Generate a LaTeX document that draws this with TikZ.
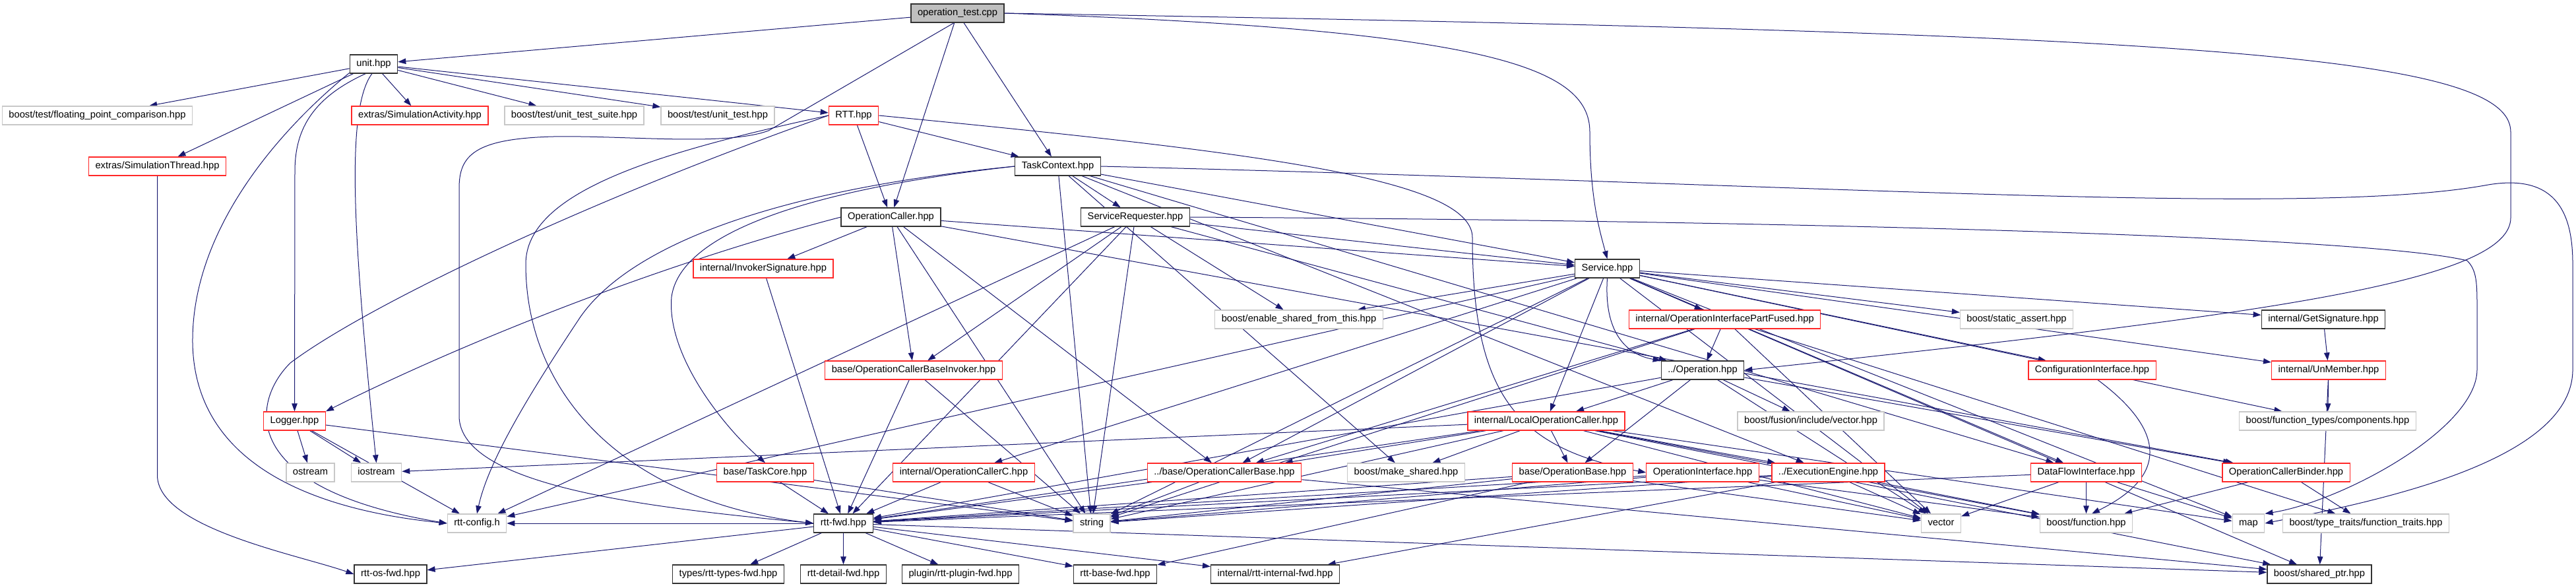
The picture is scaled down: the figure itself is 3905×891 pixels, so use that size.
\documentclass[tikz,border=0pt]{standalone}
\usepackage{fontspec}
\setmainfont{Liberation Sans}
\usetikzlibrary{arrows.meta,backgrounds}
\definecolor{edgeblue}{RGB}{25,25,112}
\definecolor{hdrgray}{RGB}{191,191,191}
\definecolor{boxred}{RGB}{255,40,40}
\definecolor{boxgray}{RGB}{200,200,200}
\newcommand{\graphfont}{\fontsize{14.7}{17}\selectfont}

\begin{document}
\begin{tikzpicture}[x=1pt,y=-1pt,
   file/.style={draw=black!80, line width=1.3pt, fill=white, font=\graphfont,
                minimum height=28pt, inner xsep=10pt, inner ysep=0pt,
                text height=10.5pt, text depth=3pt},
   trunc/.style={file, draw=boxred},
   sys/.style={file, draw=boxgray},
   dep/.style={draw=edgeblue, line width=1pt, -{Triangle[length=12pt,width=8.5pt]}}]
  \useasboundingbox (0,0) rectangle (3905,891);

  \node[file, fill=hdrgray] (root) at (1451.5,20) {operation\_test.cpp};
  \node[file] (unit) at (566.5,97) {unit.hpp};
  \node[sys] (fpc) at (147.5,175) {boost/test/floating\_point\_comparison.hpp};
  \node[trunc] (simact) at (636.5,175) {extras/SimulationActivity.hpp};
  \node[sys] (uts) at (870.5,175) {boost/test/unit\_test\_suite.hpp};
  \node[sys] (ut) at (1088,175) {boost/test/unit\_test.hpp};
  \node[trunc] (rtt) at (1294,175) {RTT.hpp};
  \node[trunc] (simthr) at (238.5,252) {extras/SimulationThread.hpp};
  \node[file] (tc) at (1603.5,252) {TaskContext.hpp};
  \node[file] (oc) at (1350.5,329) {OperationCaller.hpp};
  \node[file] (sr) at (1721,329) {ServiceRequester.hpp};
  \node[trunc] (inv) at (1157,407) {internal/InvokerSignature.hpp};
  \node[file] (svc) at (2436.5,407) {Service.hpp};
  \node[sys] (esft) at (1969,484) {boost/enable\_shared\_from\_this.hpp};
  \node[trunc] (oipf) at (2614.5,484) {internal/OperationInterfacePartFused.hpp};
  \node[sys] (sa) at (3057,484) {boost/static\_assert.hpp};
  \node[file] (getsig) at (3522,484) {internal/GetSignature.hpp};
  \node[trunc] (ocbi) at (1385,561) {base/OperationCallerBaseInvoker.hpp};
  \node[file] (op) at (2581,561) {../Operation.hpp};
  \node[trunc] (cfg) at (3171.5,561) {ConfigurationInterface.hpp};
  \node[trunc] (unm) at (3530,561) {internal/UnMember.hpp};
  \node[trunc] (logger) at (446.5,638) {Logger.hpp};
  \node[trunc] (loc) at (2344,638) {internal/LocalOperationCaller.hpp};
  \node[sys] (fus) at (2745,638) {boost/fusion/include/vector.hpp};
  \node[sys] (comp) at (3528.5,638) {boost/function\_types/components.hpp};
  \node[sys] (ostream) at (470.5,716) {ostream};
  \node[sys] (iostream) at (570.5,716) {iostream};
  \node[trunc] (tcore) at (1160,716) {base/TaskCore.hpp};
  \node[trunc] (occ) at (1461,716) {internal/OperationCallerC.hpp};
  \node[trunc] (ocb) at (1856,716) {../base/OperationCallerBase.hpp};
  \node[sys] (mks) at (2131.5,716) {boost/make\_shared.hpp};
  \node[trunc] (opb) at (2384,716) {base/OperationBase.hpp};
  \node[trunc] (oi) at (2581,716) {OperationInterface.hpp};
  \node[trunc] (ee) at (2771.5,716) {../ExecutionEngine.hpp};
  \node[trunc] (dfi) at (3162.5,716) {DataFlowInterface.hpp};
  \node[trunc] (ocbind) at (3465.5,716) {OperationCallerBinder.hpp};
  \node[sys] (rttcfg) at (723,793) {rtt-config.h};
  \node[file] (rttfwd) at (1278.5,793) {rtt-fwd.hpp};
  \node[sys] (string) at (1655,793) {string};
  \node[sys] (vector) at (2942.5,793) {vector};
  \node[sys] (bfun) at (3162.5,793) {boost/function.hpp};
  \node[sys] (map) at (3408.5,793) {map};
  \node[sys] (ftr) at (3586.5,793) {boost/type\_traits/function\_traits.hpp};
  \node[file] (osfwd) at (592,870) {rtt-os-fwd.hpp};
  \node[file] (typesfwd) at (1104,870) {types/rtt-types-fwd.hpp};
  \node[file] (detailfwd) at (1278.5,870) {rtt-detail-fwd.hpp};
  \node[file] (pluginfwd) at (1456,870) {plugin/rtt-plugin-fwd.hpp};
  \node[file] (basefwd) at (1690.5,870) {rtt-base-fwd.hpp};
  \node[file] (internalfwd) at (1933,870) {internal/rtt-internal-fwd.hpp};
  \node[file] (sptr) at (3516,870) {boost/shared\_ptr.hpp};

  \begin{scope}[on background layer]
  % straight includes
  \foreach \t in {unit,oc,tc} \draw[dep] (root) -- (\t);
  \foreach \t in {fpc,simthr,simact,uts,ut,rtt} \draw[dep] (unit) -- (\t);
  \foreach \t in {tc,oc} \draw[dep] (rtt) -- (\t);
  \foreach \t in {sr,svc,string,mks,ee,dfi} \draw[dep] (tc) -- (\t);
  \foreach \t in {svc,inv,ocbi,ocb,string,ocbind} \draw[dep] (oc) -- (\t);
  \foreach \t in {svc,esft,ocbi,rttcfg,rttfwd,string,op} \draw[dep] (sr) -- (\t);
  \foreach \t in {esft,oipf,sa,getsig,unm,comp,cfg,loc,occ,ocb,dfi,rttcfg,string,vector,sptr,map}
    \draw[dep] (svc) -- (\t);
  \draw[dep] (inv) -- (rttfwd);
  \foreach \t in {rttfwd,string} \draw[dep] (ocbi) -- (\t);
  \foreach \t in {op,ocb,string,vector,ftr} \draw[dep] (oipf) -- (\t);
  \foreach \t in {loc,opb,fus,vector,rttfwd,ocbind} \draw[dep] (op) -- (\t);
  \foreach \t in {ocb,mks,opb,ee,iostream,rttfwd,string,vector,bfun,map,sptr} \draw[dep] (loc) -- (\t);
  \foreach \t in {rttfwd,string} \draw[dep] (occ) -- (\t);
  \foreach \t in {rttfwd,string,sptr} \draw[dep] (ocb) -- (\t);
  \foreach \t in {rttfwd,string,basefwd,vector} \draw[dep] (opb) -- (\t);
  \foreach \t in {rttfwd,string,vector,bfun} \draw[dep] (oi) -- (\t);
  \foreach \t in {internalfwd,rttfwd,vector,bfun,string} \draw[dep] (ee) -- (\t);
  \foreach \t in {vector,bfun,rttfwd,map} \draw[dep] (dfi) -- (\t);
  \draw[dep] (getsig) -- (unm);
  \foreach \t in {comp,sptr} \draw[dep] (unm) -- (\t);
  \foreach \t in {bfun,ftr} \draw[dep] (ocbind) -- (\t);
  \foreach \t in {ostream,iostream,rttcfg,string} \draw[dep] (logger) -- (\t);
  \foreach \t in {rttfwd,string} \draw[dep] (tcore) -- (\t);
  \foreach \t in {rttcfg,osfwd,typesfwd,detailfwd,pluginfwd,basefwd,internalfwd,sptr}
    \draw[dep] (rttfwd) -- (\t);

  % routed the long way round
  \draw[dep] (root.east) .. controls (2250,45) and (2410,100) .. (2410,200)
    .. controls (2410,300) and (2425,350) .. (svc.north);
  \draw[dep] (root.east) .. controls (3300,50) and (3806,80) .. (3806,200) -- (3806,330)
    .. controls (3806,430) and (3400,480) .. (op.east);
  \draw[dep] (root.250) -- (1165,198) .. controls (1100,222) and (950,205) .. (839,207)
    .. controls (720,210) and (696,235) .. (696,285) -- (696,630)
    .. controls (696,740) and (1000,770) .. (rttfwd.west);
  \draw[dep] (unit.200) .. controls (420,200) and (290,350) .. (292,520)
    .. controls (295,690) and (450,770) .. (rttcfg.west);
  \draw[dep] (unit.230) .. controls (470,150) and (447,200) .. (447,260) -- (logger.north);
  \draw[dep] (unit.260) .. controls (520,170) and (540,400) .. (iostream.north);
  \draw[dep] (simthr.south) -- (238.5,720) .. controls (238.5,800) and (450,840) .. (osfwd.west);
  \draw[dep] (rtt.west) .. controls (900,300) and (560,460) .. (440,550)
    .. controls (380,610) and (360,740) .. (rttcfg.west);
  \draw[dep] (rtt.west) .. controls (1000,230) and (797,290) .. (797,400)
    .. controls (797,600) and (950,760) .. (rttfwd.west);
  \draw[dep] (rtt.east) .. controls (1900,230) and (2232,270) .. (2232,360)
    .. controls (2232,600) and (2300,680) .. (oi.west);
  \draw[dep] (tc.west) .. controls (1200,290) and (1030,360) .. (1018,450)
    .. controls (1010,540) and (1100,650) .. (tcore.north);
  \draw[dep] (tc.west) .. controls (1150,290) and (950,380) .. (880,480)
    .. controls (800,600) and (740,700) .. (rttcfg.north);
  \draw[dep] (oc.west) .. controls (1000,400) and (700,520) .. (logger.north east);
  \draw[dep] (svc.south) .. controls (2430,520) and (2480,540) .. (op.north west);
  \draw[dep] (tc.east) .. controls (2800,280) and (3500,330) .. (3772,280)
    .. controls (3880,262) and (3900,330) .. (3900,400) -- (3900,560)
    .. controls (3900,700) and (3600,760) .. (map.east);
  \draw[dep] (sr.east) .. controls (2800,335) and (3600,360) .. (3740,395)
    .. controls (3755,410) and (3755,430) .. (3755,470) -- (3755,560)
    .. controls (3755,650) and (3550,760) .. (map.north east);
  \draw[dep] (cfg.300) .. controls (3280,650) and (3290,720) .. (bfun.60);
  \end{scope}
\end{tikzpicture}
\end{document}
